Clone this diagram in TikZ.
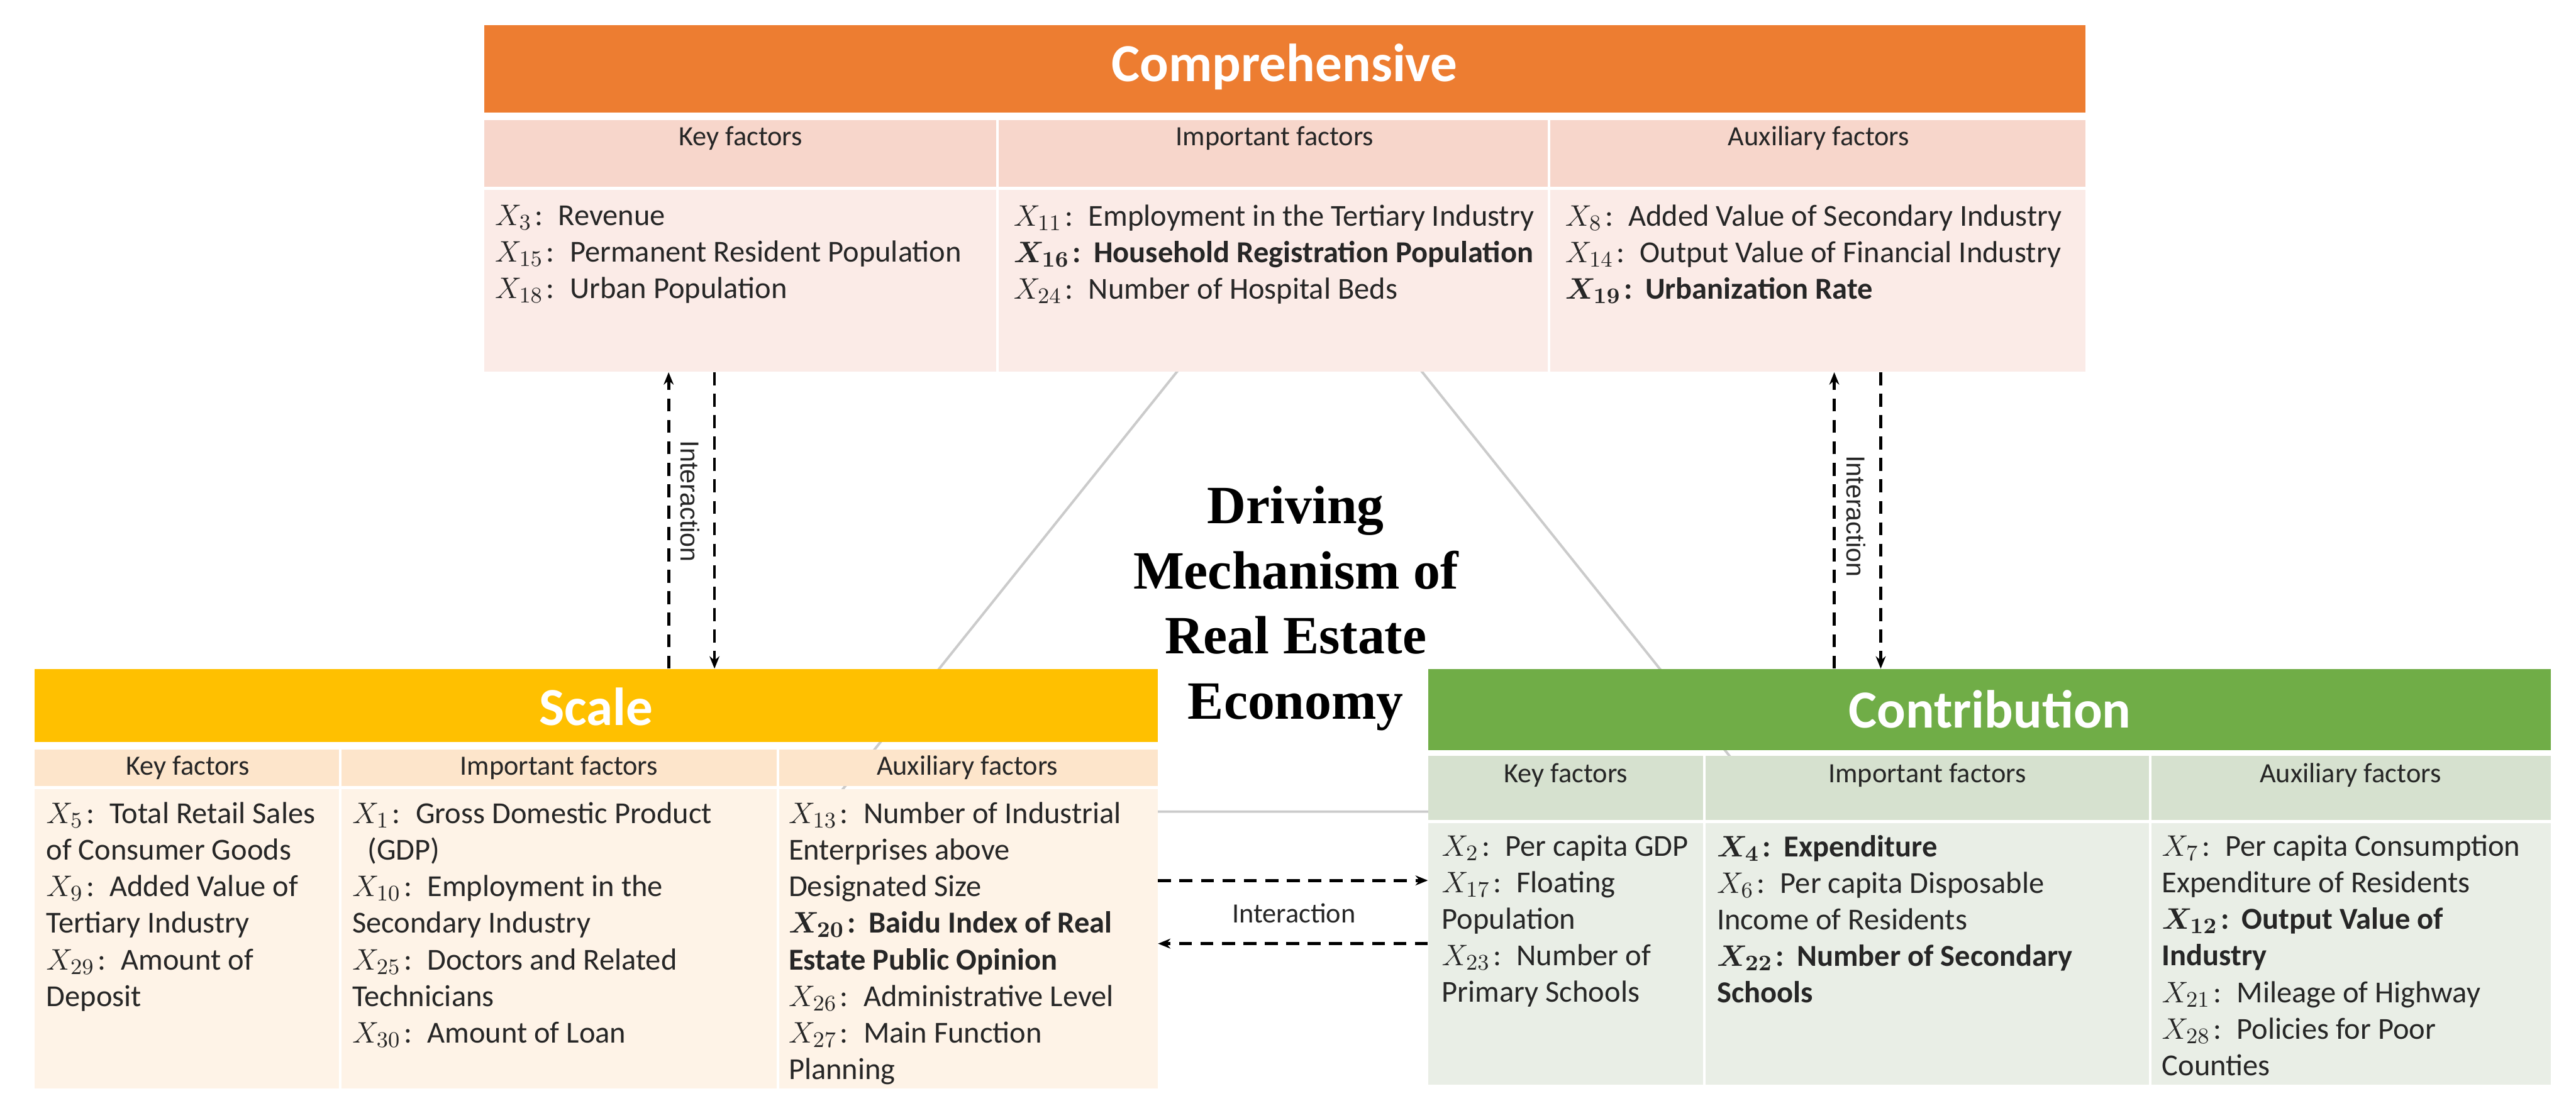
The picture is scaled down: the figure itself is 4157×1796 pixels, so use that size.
\documentclass[tikz,border=0pt]{standalone}
\usepackage{fontspec}
\setmainfont{Carlito}
\newfontfamily\arialf{Liberation Sans}
\newfontfamily\timesf{Liberation Serif}
\usetikzlibrary{arrows.meta,fit}
\definecolor{txt}{HTML}{262626}
\definecolor{compHead}{HTML}{ED7D31}
\definecolor{compSub}{HTML}{F7D6CB}
\definecolor{compBody}{HTML}{FBEBE7}
\definecolor{scaleHead}{HTML}{FFC000}
\definecolor{scaleSub}{HTML}{FDE5CB}
\definecolor{scaleBody}{HTML}{FEF3E7}
\definecolor{contrHead}{HTML}{70AD47}
\definecolor{contrSub}{HTML}{D6E1CF}
\definecolor{contrBody}{HTML}{E9EEE6}
\definecolor{lgray}{HTML}{CBCBCB}
\newcommand\bodyfont{\fontsize{12.3}{14.75}\selectfont}
\newcommand\subfont{\fontsize{11.25}{14}\selectfont}
\newcommand\headfont{\fontsize{21.6}{25}\selectfont\bfseries}
\newcommand\titlefont{\timesf\bfseries\fontsize{21.75}{26.3}\selectfont}
\newcommand\vlabfont{\arialf\fontsize{10.5}{12}\selectfont}
\newcommand\fxr[1]{$X_{#1}$\hspace{0.1em}:\hspace{0.5em}}
\newcommand\fxb[1]{{\boldmath$X_{#1}$}\hspace{0.1em}\textbf{:}\hspace{0.42em}}
\begin{document}
\begin{tikzpicture}[x=0.25pt,y=-0.25pt,
  body/.style={anchor=north west, inner sep=0, align=left, font=\bodyfont, text=txt},
  subh/.style={inner sep=0, font=\subfont, text=txt},
  headtxt/.style={inner sep=0, font=\headfont, text=white},
  arr/.style={dash pattern=on 5.25pt off 3.4pt, line width=1.2pt, -{Stealth[length=5pt,width=4pt]}},
  tri/.style={draw=lgray, line width=1pt},
  divl/.style={draw=white, line width=1pt},
  vlab/.style={font=\vlabfont, rotate=-90, inner sep=0, text=txt},
  hlab/.style={font=\subfont, inner sep=0, text=txt},
  area/.style={inner sep=0}]
\useasboundingbox[fill=white] (0,0) rectangle (4157,1796);

% triangle behind the boxes
\coordinate (tA) at (2097,353);
\coordinate (tB) at (1331,1310);
\coordinate (tC) at (2863,1310);
\draw[tri] (tA) -- (tB) -- (tC) -- cycle;

% box areas
\node[area, fit={(781,41)(3365,600)}] (comp) {};
\node[area, fit={(56,1080)(1868,1757)}] (scale) {};
\node[area, fit={(2305,1080)(4116,1751)}] (contr) {};

% Comprehensive
\fill[compHead] (781,41) rectangle (3365,182);
\fill[compSub] (781,194) rectangle (3365,301);
\fill[compBody] (781,306) rectangle (3365,600);
\draw[divl] (1610,194) -- (1610,600);
\draw[divl] (2500,194) -- (2500,600);
\node[headtxt] (compT) at (2073,108) {Comprehensive};
\node[subh] (compS1) at (1195,223) {Key factors};
\node[subh] (compS2) at (2057,223) {Important factors};
\node[subh] (compS3) at (2935,223) {Auxiliary factors};
\node[body] (compB1) at (798,330) {\fxr{3}Revenue\\\fxr{15}Permanent Resident Population\\\fxr{18}Urban Population};
\node[body] (compB2) at (1635,330) {\fxr{11}Employment in the Tertiary Industry\\\fxb{16}\textbf{Household Registration Population}\\\fxr{24}Number of Hospital Beds};
\node[body] (compB3) at (2525,330) {\fxr{8}Added Value of Secondary Industry\\\fxr{14}Output Value of Financial Industry\\\fxb{19}\textbf{Urbanization Rate}};

% Scale
\fill[scaleHead] (56,1080) rectangle (1868,1198);
\fill[scaleSub] (56,1210) rectangle (1868,1269);
\fill[scaleBody] (56,1274) rectangle (1868,1757);
\draw[divl] (549,1210) -- (549,1757);
\draw[divl] (1255,1210) -- (1255,1757);
\node[headtxt] (scaleT) at (962,1141) {Scale};
\node[subh] (scaleS1) at (303,1239) {Key factors};
\node[subh] (scaleS2) at (902,1239) {Important factors};
\node[subh] (scaleS3) at (1561,1239) {Auxiliary factors};
\node[body] (scaleB1) at (74,1294) {\fxr{5}Total Retail Sales\\of Consumer Goods\\\fxr{9}Added Value of\\Tertiary Industry\\\fxr{29}Amount of\\Deposit};
\node[body] (scaleB2) at (568,1294) {\fxr{1}Gross Domestic Product\\\hspace*{0.5em}(GDP)\\\fxr{10}Employment in the\\Secondary Industry\\\fxr{25}Doctors and Related\\Technicians\\\fxr{30}Amount of Loan};
\node[body] (scaleB3) at (1272,1294) {\fxr{13}Number of Industrial\\Enterprises above\\Designated Size\\\fxb{20}\textbf{Baidu Index of Real}\\\textbf{Estate Public Opinion}\\\fxr{26}Administrative Level\\\fxr{27}Main Function\\Planning};

% Contribution
\fill[contrHead] (2305,1080) rectangle (4116,1211);
\fill[contrSub] (2305,1220) rectangle (4116,1323);
\fill[contrBody] (2305,1329) rectangle (4116,1751);
\draw[divl] (2750,1220) -- (2750,1751);
\draw[divl] (3470,1220) -- (3470,1751);
\node[headtxt] (contrT) at (3211,1145) {Contribution};
\node[subh] (contrS1) at (2527,1251) {Key factors};
\node[subh] (contrS2) at (3110,1251) {Important factors};
\node[subh] (contrS3) at (3793,1251) {Auxiliary factors};
\node[body] (contrB1) at (2326,1347) {\fxr{2}Per capita GDP\\\fxr{17}Floating\\Population\\\fxr{23}Number of\\Primary Schools};
\node[body] (contrB2) at (2770,1347) {\fxb{4}\textbf{Expenditure}\\\fxr{6}Per capita Disposable\\Income of Residents\\\fxb{22}\textbf{Number of Secondary}\\\textbf{Schools}};
\node[body] (contrB3) at (3488,1347) {\fxr{7}Per capita Consumption\\Expenditure of Residents\\\fxb{12}\textbf{Output Value of}\\\textbf{Industry}\\\fxr{21}Mileage of Highway\\\fxr{28}Policies for Poor\\Counties};

% title
\node[align=center, font=\titlefont, inner sep=0] (title) at (2091,982) {Driving\\Mechanism of\\Real Estate\\Economy};

% interaction arrows
\coordinate (vL1) at (1079,0);
\coordinate (vL2) at (1153,0);
\coordinate (vR1) at (2960,0);
\coordinate (vR2) at (3035,0);
\coordinate (hA) at (0,1421);
\coordinate (hB) at (0,1523);
\draw[arr] (scale.north -| vL1) -- (comp.south -| vL1);
\draw[arr] (comp.south -| vL2) -- (scale.north -| vL2);
\draw[arr] (contr.north -| vR1) -- (comp.south -| vR1);
\draw[arr] (comp.south -| vR2) -- (contr.north -| vR2);
\draw[arr] (scale.east |- hA) -- (contr.west |- hA);
\draw[arr] (contr.west |- hB) -- (scale.east |- hB);
\node[vlab] (labL) at (1114,809) {Interaction};
\node[vlab] (labR) at (2995,833) {Interaction};
\node[hlab] (labH) at (2088,1474) {Interaction};
\end{tikzpicture}
\end{document}
